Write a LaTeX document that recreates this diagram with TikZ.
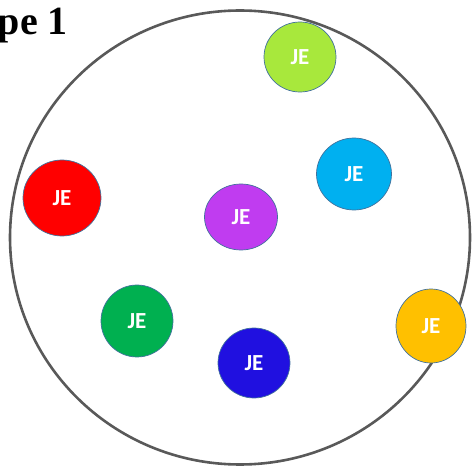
\documentclass[tikz,border=0pt]{standalone}
\usepackage{fontspec}
\setmainfont{Liberation Serif}
\newfontfamily\jefont{Carlito}
\usetikzlibrary{shapes.geometric}
\definecolor{jlime}{HTML}{A8E83C}
\definecolor{jcyan}{HTML}{00B0F0}
\definecolor{jred}{HTML}{FF0000}
\definecolor{jpurple}{HTML}{C03CF0}
\definecolor{jgreen}{HTML}{00B050}
\definecolor{jblue}{HTML}{2010E0}
\definecolor{jorange}{HTML}{FFC000}
\definecolor{jedge}{HTML}{41719C}
\definecolor{ringgray}{HTML}{595959}
\tikzset{jnode/.style={ellipse,draw=jedge,line width=0.7pt,inner sep=0pt,
	 minimum width=72pt,minimum height=72pt,text=white,font=\jefont\bfseries\fontsize{23}{23}\selectfont},
	 ring/.style={ellipse,draw=ringgray,line width=2.6pt,inner sep=0pt}
	 }

\begin{document}
\begin{tikzpicture}[x=1pt,y=-1pt] % population of JE items
	\clip (0,0) rectangle (475,468);
	\useasboundingbox (0,0) rectangle (475,468);
	\node[anchor=base east,inner sep=0pt,font=\bfseries\fontsize{40}{40}\selectfont] (title) at (68,35) {Type 1};
	\node[ring,minimum width=460pt,minimum height=454pt] (pool) at (240,237.5) {};
	\node[jnode,fill=jlime,minimum height=70pt] (je1) at (300,57) {JE};
	\node[jnode,fill=jcyan,minimum width=75pt] (je2) at (354,174) {JE};
	\node[jnode,fill=jred,minimum width=78pt,minimum height=76pt] (je3) at (62,198) {JE};
	\node[jnode,fill=jpurple,minimum width=73pt,minimum height=66pt] (je4) at (241,217) {JE};
	\node[jnode,fill=jgreen] (je5) at (137,321) {JE};
	\node[jnode,fill=jblue,minimum height=70pt] (je6) at (254,363) {JE};
	\node[jnode,fill=jorange,minimum width=70pt,minimum height=74pt] (je7) at (431,326) {JE};
\end{tikzpicture}
\end{document}
